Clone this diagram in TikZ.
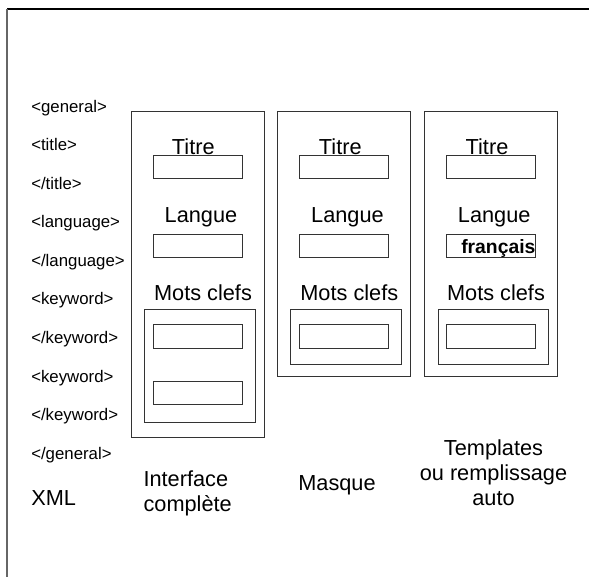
\documentclass[tikz,border=0pt]{standalone}
\usepackage{fontspec}
\setmainfont{Liberation Sans}

\tikzset{
    balise/.style={font=\fontsize{12.6}{14}\selectfont, anchor=base west, inner sep=0pt},
    titre/.style={font=\fontsize{16.3}{18.75}\selectfont, anchor=base, inner sep=0pt},
    cadre/.style={draw=black!80, line width=0.75pt}
}

\begin{document}
\begin{tikzpicture}[x=0.75pt,y=-0.75pt] %Maquette des formulaires
        \useasboundingbox (0,0) rectangle (589,577);

        \draw[black, line width=0.9pt] (7,9) -- (589,9);
        \draw[black!60, line width=1.4pt] (7,9) -- (7,577);

        \coordinate (A1) at (131.7,111.7);
        \coordinate (B1) at (264.3,437.7);
        \coordinate (A2) at (277.3,111.7);
        \coordinate (B2) at (410.3,376.7);
        \coordinate (A3) at (424.7,111.7);
        \coordinate (B3) at (557.7,376.7);

        \draw[cadre] (A1) rectangle (B1);
        \draw[cadre] (A2) rectangle (B2);
        \draw[cadre] (A3) rectangle (B3);

        \draw[cadre] (153,156) rectangle (242,179);
        \draw[cadre] (153,235) rectangle (242,258);
        \draw[cadre] (144,310) rectangle (255.3,422.3);
        \draw[cadre] (153,325) rectangle (242,348.3);
        \draw[cadre] (153,381.7) rectangle (242,404);

        \draw[cadre] (299.3,156) rectangle (388.3,179);
        \draw[cadre] (299.3,235) rectangle (388.3,258);
        \draw[cadre] (290.3,310) rectangle (401.3,364.7);
        \draw[cadre] (299.3,325) rectangle (388.3,348.3);

        \draw[cadre] (446.7,156) rectangle (535.7,179);
        \draw[cadre] (446.7,235) rectangle (535.7,258);
        \draw[cadre] (438,310) rectangle (548.7,364.7);
        \draw[cadre] (446.7,325) rectangle (535.7,348.3);

        \node[balise] (g1) at (31,112.5) {<general>};
        \node[balise] (t1) at (31,151) {<title>};
        \node[balise] (t2) at (31,189.5) {</title>};
        \node[balise] (l1) at (31,228) {<language>};
        \node[balise] (l2) at (31,266.5) {</language>};
        \node[balise] (k1) at (31,305) {<keyword>};
        \node[balise] (k2) at (31,343.5) {</keyword>};
        \node[balise] (k3) at (31,382) {<keyword>};
        \node[balise] (k4) at (31,420.5) {</keyword>};
        \node[balise] (g2) at (31,459) {</general>};

        \node[titre] (titre1) at (193.3,155) {Titre};
        \node[titre] (langue1) at (201,222.7) {Langue};
        \node[titre] (mots1) at (203,300.7) {Mots clefs};

        \node[titre] (titre2) at (340.3,155) {Titre};
        \node[titre] (langue2) at (347.5,222.7) {Langue};
        \node[titre] (mots2) at (349.3,300.7) {Mots clefs};

        \node[titre] (titre3) at (487,155) {Titre};
        \node[titre] (langue3) at (494.2,222.7) {Langue};
        \node[titre] (mots3) at (496,300.7) {Mots clefs};
        \node[font=\fontsize{14.5}{16}\selectfont\bfseries, anchor=base west, inner sep=0pt] (fr) at (461,253.3) {français};

        \node[titre, anchor=base west] (xml) at (31,505.7) {XML};
        \node[titre, anchor=base west, align=left] (interface) at (143.3,511.7) {Interface\\complète};
        \node[titre] (masque) at (337,490) {Masque};
        \node[titre, align=center] (templates) at (493.5,505.7) {Templates\\ou remplissage\\auto};
\end{tikzpicture}
\end{document}
